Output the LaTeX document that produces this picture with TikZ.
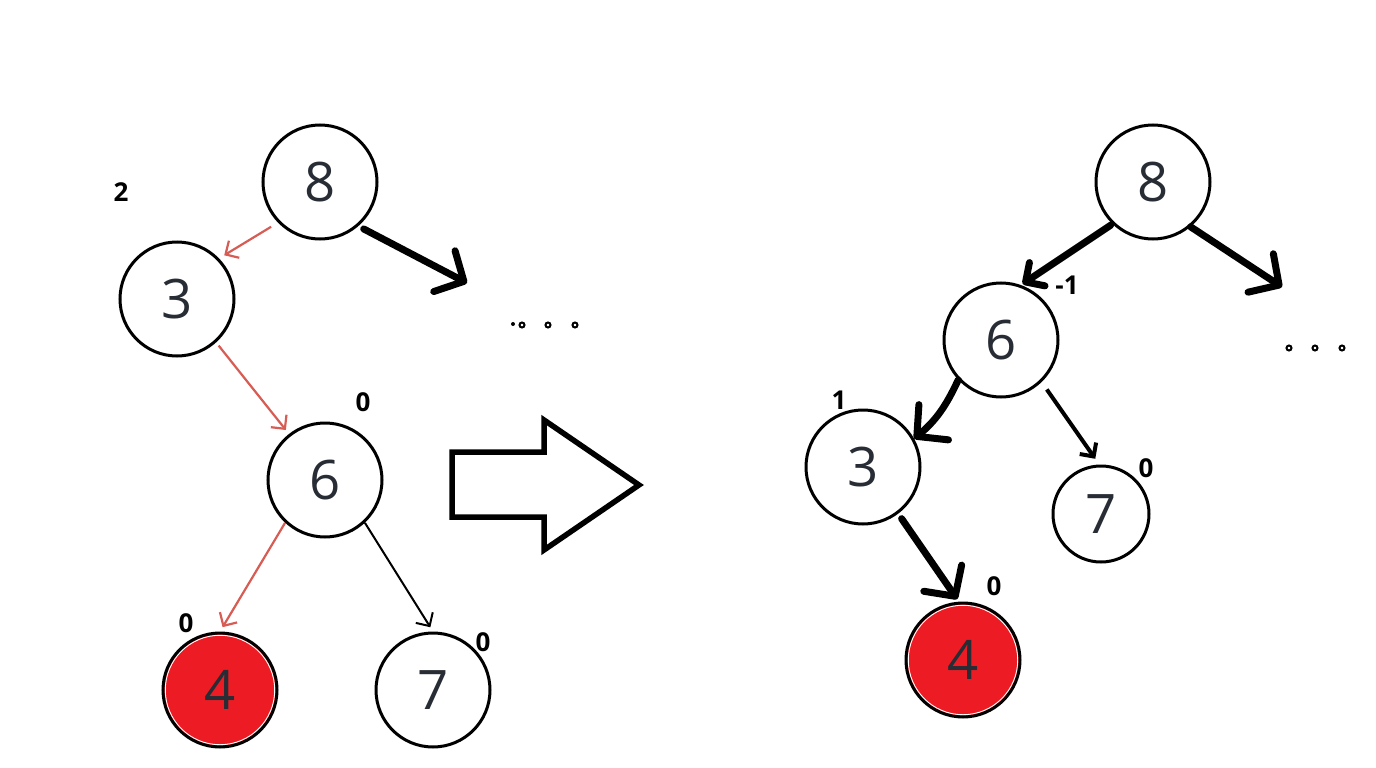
\documentclass[tikz,border=0pt]{standalone}
\usepackage{fontspec}
\setmainfont{Open Sans}
\usetikzlibrary{arrows.meta}
\definecolor{digit}{RGB}{40,44,52}
\definecolor{redarc}{RGB}{214,92,84}
\definecolor{fillred}{RGB}{237,28,36}
\begin{document}
\begin{tikzpicture}[x=1cm,y=1cm,
 tn/.style={circle, draw=black, line width=0.3mm, minimum size=11.4mm, inner sep=0pt, font=\fontsize{15.5}{16}\selectfont, text=digit},
 rednode/.style={tn, fill=fillred},
 bal/.style={font=\bfseries\fontsize{7.4}{8}\selectfont, inner sep=0pt},
 thinred/.style={draw=redarc, line width=0.22mm, -{Straight Barb[length=1mm,width=2mm]}},
 thinblk/.style={draw=black, line width=0.2mm, -{Straight Barb[length=1mm,width=2mm]}},
 thickblk/.style={draw=black, line width=0.7mm, line cap=round, -{Straight Barb[length=2.2mm,width=4.6mm,round]}},
 smallthick/.style={draw=black, line width=0.7mm, line cap=round, -{Straight Barb[length=1.4mm,width=2.8mm,round]}},
 bigarrow/.style={draw=black, line width=0.55mm, line join=miter},
 dotring/.style={draw=black, line width=0.2mm}
]
\useasboundingbox (0,0) rectangle (13.76,-7.68);

% left tree
\node[tn] (l8) at (3.20,-1.82) {8};
\node[tn] (l3) at (1.77,-2.99) {3};
\node[tn] (l6) at (3.25,-4.80) {6};
\node[rednode] (l4) at (2.20,-6.90) {4};
\node[tn] (l7) at (4.33,-6.90) {7};
\draw[white, line width=0.25pt] (l4.center) circle (5.47mm);
\coordinate (ldots) at (4.67,-2.83);

% right tree
\node[tn] (r8) at (11.53,-1.82) {8};
\node[tn] (r6) at (10.01,-3.40) {6};
\node[tn] (r3) at (8.63,-4.67) {3};
\node[tn, minimum size=9.6mm] (r7) at (11.01,-5.14) {7};
\node[rednode] (r4) at (9.63,-6.60) {4};
\draw[white, line width=0.25pt] (r4.center) circle (5.47mm);
\coordinate (rdots) at (12.82,-2.87);

% balance labels
\node[bal] (b2) at (1.21,-1.92) {2};
\node[bal] (bl6) at (3.63,-4.02) {0};
\node[bal] (bl4) at (1.86,-6.23) {0};
\node[bal] (bl7) at (4.83,-6.42) {0};
\node[bal] (br6) at (10.67,-2.85) {-1};
\node[bal] (br3) at (8.39,-4.00) {1};
\node[bal] (br7) at (11.46,-4.68) {0};
\node[bal] (br4) at (9.94,-5.86) {0};

% left edges
\draw[thinred, shorten <=0.8mm, shorten >=0.6mm] (l8.-136) -- (l3.44);
\draw[thinred, shorten <=0.4mm, shorten >=0.5mm] (l3.-48) -- (l6.128);
\draw[thinred, shorten >=0.5mm] (l6.-133) -- (l4.north);
\draw[thinblk, shorten >=0.5mm] (l6.-47) -- (l7.north);
\draw[thickblk, shorten <=0.6mm] (l8.-49) -- (ldots);

% right edges
\draw[smallthick, shorten <=0.2mm, shorten >=0.2mm] (r8.-134) -- (r6.70);
\draw[thickblk] (r8.-50) -- (rdots);
\draw[thickblk] (r6.-137) to[out=-115,in=40] (r3.29);
\draw[thinblk, line width=0.4mm, shorten <=0.9mm, shorten >=0.7mm] (r6.-46) -- (r7.92);
\draw[thickblk, shorten <=0.6mm, shorten >=0.3mm] (r3.-53) -- (r4.94);

% big hollow arrow
\draw[bigarrow] (4.52,-4.52) -- (5.44,-4.52) -- (5.44,-4.20) -- (6.39,-4.85) -- (5.44,-5.50) -- (5.44,-5.17) -- (4.52,-5.17) -- cycle;

% ellipsis dots
\fill (5.13,-3.24) circle (0.2mm);
\foreach \x in {5.22,5.48,5.75} \draw[dotring] (\x,-3.25) circle (0.25mm);
\foreach \x in {12.89,13.15,13.42} \draw[dotring] (\x,-3.48) circle (0.25mm);
\end{tikzpicture}
\end{document}
